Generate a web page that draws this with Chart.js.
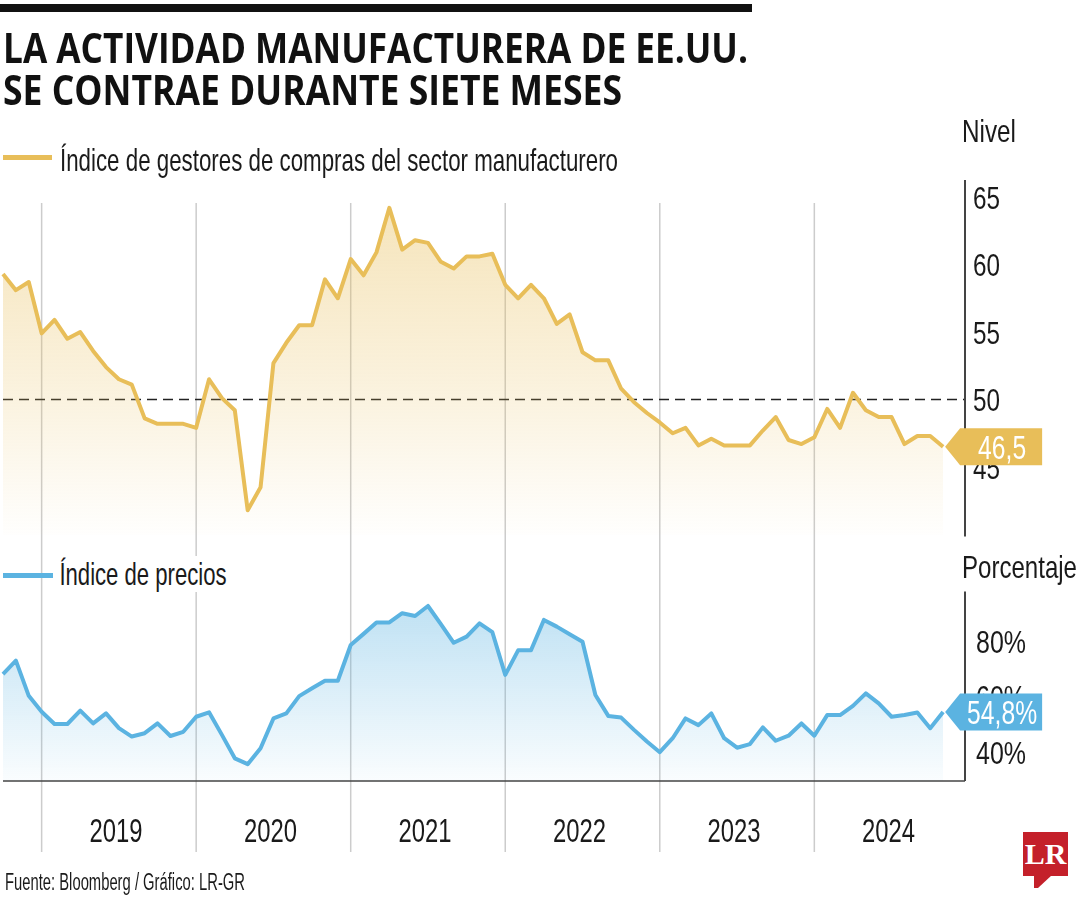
<!DOCTYPE html>
<html>
<head>
<meta charset="utf-8">
<script src="https://cdn.jsdelivr.net/npm/chart.js@4.4.1/dist/chart.umd.min.js"></script>
<style>
  body { margin: 0; background: #fff; }
  #page { position: relative; width: 1080px; height: 900px; overflow: hidden; background: #fff; }
  #chart { position: absolute; left: 0; top: 0; }
  .txt { position: absolute; white-space: nowrap; line-height: 1; transform-origin: 0 0; color: #1a1a1a;
         font-family: "Liberation Sans Narrow", "Liberation Sans", sans-serif; }
  .title { font-family: "Open Sans", "Noto Sans", sans-serif; font-weight: 700; font-size: 42px; color: #111; }
  .bar { position: absolute; background: #111; }
  .key { position: absolute; height: 5px; }
  #logo { position: absolute; left: 1023px; top: 832px; width: 45px; height: 44px; background: #c4202a;
          color: #fff; font: bold 30px "Liberation Serif", "DejaVu Serif", serif; text-align: center; line-height: 44px; }
  #logo:after { content: ""; position: absolute; left: 11px; top: 43px; border-left: 4px solid #c4202a;
                border-right: 14px solid transparent; border-top: 13px solid #c4202a; }
</style>
</head>
<body>
<div id="page">
  <canvas id="chart" width="1080" height="900"></canvas>

  <div class="bar" style="left:0;top:4px;width:752px;height:8px"></div>
  <div class="txt title" style="left:3px;top:26px" data-w="745">LA ACTIVIDAD MANUFACTURERA DE EE.UU.</div>
  <div class="txt title" style="left:3px;top:68px" data-w="619">SE CONTRAE DURANTE SIETE MESES</div>

  <div class="key" style="left:3px;top:155px;width:49px;background:#e8be59"></div>
  <div class="txt" style="left:60px;top:144px;font-size:32px" data-w="558">Índice de gestores de compras del sector manufacturero</div>
  <div class="txt" style="left:962px;top:115px;font-size:32px" data-w="54">Nivel</div>

  <div class="key" style="left:3px;top:573px;width:50px;background:#5bb3e1"></div>
  <div class="txt" style="left:58px;top:556px;font-size:32px;background:#fff;padding:2px" data-w="170">Índice de precios</div>
  <div class="txt" style="left:962px;top:551px;font-size:32px" data-w="115">Porcentaje</div>

  <div class="txt" style="left:5px;top:871px;font-size:23px" data-w="240">Fuente: Bloomberg / Gráfico: LR-GR</div>
  <div id="logo">LR</div>
</div>

<script>
// months from sep 2018 to oct 2024
const months = [
  'sep 2018', 'oct 2018', 'nov 2018', 'dic 2018',
  'ene 2019', 'feb 2019', 'mar 2019', 'abr 2019', 'may 2019', 'jun 2019', 'jul 2019', 'ago 2019', 'sep 2019', 'oct 2019', 'nov 2019', 'dic 2019',
  'ene 2020', 'feb 2020', 'mar 2020', 'abr 2020', 'may 2020', 'jun 2020', 'jul 2020', 'ago 2020', 'sep 2020', 'oct 2020', 'nov 2020', 'dic 2020',
  'ene 2021', 'feb 2021', 'mar 2021', 'abr 2021', 'may 2021', 'jun 2021', 'jul 2021', 'ago 2021', 'sep 2021', 'oct 2021', 'nov 2021', 'dic 2021',
  'ene 2022', 'feb 2022', 'mar 2022', 'abr 2022', 'may 2022', 'jun 2022', 'jul 2022', 'ago 2022', 'sep 2022', 'oct 2022', 'nov 2022', 'dic 2022',
  'ene 2023', 'feb 2023', 'mar 2023', 'abr 2023', 'may 2023', 'jun 2023', 'jul 2023', 'ago 2023', 'sep 2023', 'oct 2023', 'nov 2023', 'dic 2023',
  'ene 2024', 'feb 2024', 'mar 2024', 'abr 2024', 'may 2024', 'jun 2024', 'jul 2024', 'ago 2024', 'sep 2024', 'oct 2024'
];

// PMI manufacturero (nivel)
const pmi = [
  59.3, 58.1, 58.7, 54.9,
  55.9, 54.5, 55.0, 53.6, 52.4, 51.5, 51.1, 48.6, 48.2, 48.2, 48.2, 47.9,
  51.5, 50.1, 49.2, 41.8, 43.5, 52.7, 54.2, 55.5, 55.5, 58.9, 57.5, 60.4,
  59.2, 60.9, 64.2, 61.1, 61.8, 61.6, 60.2, 59.7, 60.6, 60.6, 60.8, 58.5,
  57.5, 58.5, 57.5, 55.6, 56.3, 53.5, 52.9, 52.9, 50.8, 49.8, 49.0, 48.3,
  47.5, 47.9, 46.6, 47.1, 46.6, 46.6, 46.6, 47.7, 48.7, 47.0, 46.7, 47.2,
  49.3, 47.9, 50.5, 49.2, 48.7, 48.7, 46.7, 47.3, 47.3, 46.5
];

// indice de precios (%)
const prices = [
  68.4, 73.2, 60.6, 54.9,
  50.5, 50.5, 55.3, 50.7, 54.3, 49.0, 46.0, 47.2, 50.7, 46.2, 47.7, 53.1,
  54.7, 46.6, 38.2, 36.1, 41.8, 52.5, 54.3, 60.5, 63.3, 66.0, 66.0, 78.8,
  82.8, 86.9, 86.9, 90.2, 89.2, 92.8, 86.3, 79.6, 81.8, 86.6, 83.4, 68.1,
  76.9, 76.9, 87.8, 85.4, 82.7, 80.0, 60.9, 53.4, 52.8, 48.4, 44.2, 40.4,
  45.4, 52.5, 50.1, 54.3, 45.4, 42.0, 43.3, 49.3, 44.5, 46.3, 50.7, 46.3,
  53.7, 53.7, 57.0, 61.5, 57.9, 53.1, 53.7, 54.6, 49.0, 54.8
];

const years = ['2019', '2020', '2021', '2022', '2023', '2024'];
const pmiTicks = [45, 50, 55, 60, 65];
const priceTicks = [40, 60, 80];
const pmiLast = '46,5';
const priceLast = '54,8%';

const gold = '#e8be59';
const blue = '#5bb3e1';
const FONT = '"Liberation Sans Narrow", "Liberation Sans", Arial, sans-serif';

// year label sits at june, year separator at december
const yearIdx = years.map(y => months.indexOf('jun ' + y));
const sepIdx = years.map(y => months.indexOf('dic ' + (y - 1)));

function fitText() {
  document.querySelectorAll('[data-w]').forEach(el => {
    el.style.transform = 'none';
    const w = el.getBoundingClientRect().width;
    el.style.transform = 'scaleX(' + (+el.dataset.w / w) + ')';
  });
}
fitText();
document.fonts.ready.then(fitText);

// draw text squeezed to a given width (condensed look)
function fitFill(ctx, text, x, y, width, align) {
  const w = ctx.measureText(text).width;
  ctx.save();
  ctx.translate(x, y);
  ctx.scale(width / w, 1);
  ctx.textAlign = align || 'left';
  ctx.fillText(text, 0, 0);
  ctx.restore();
}

function drawTag(ctx, xTip, yc, color, text, textW) {
  const h = 18.5;
  ctx.save();
  ctx.fillStyle = color;
  ctx.beginPath();
  ctx.moveTo(xTip, yc);
  ctx.lineTo(xTip + 15, yc - h);
  ctx.lineTo(xTip + 97, yc - h);
  ctx.lineTo(xTip + 97, yc + h);
  ctx.lineTo(xTip + 15, yc + h);
  ctx.closePath();
  ctx.fill();
  ctx.fillStyle = '#fff';
  ctx.font = '33px ' + FONT;
  fitFill(ctx, text, xTip + 57, yc + 12, textW, 'center');
  ctx.restore();
}

const decor = {
  id: 'decor',
  beforeDatasetsDraw(chart) {
    const { ctx, chartArea: a, scales: { x, y } } = chart;
    ctx.save();
    // year separators
    ctx.strokeStyle = '#cccccc';
    ctx.lineWidth = 1.5;
    sepIdx.forEach(i => {
      const px = x.getPixelForValue(i);
      ctx.beginPath();
      ctx.moveTo(px, a.top + 23);
      ctx.lineTo(px, a.bottom + 71);
      ctx.stroke();
    });
    // 50 = expansion / contraction
    const y50 = y.getPixelForValue(50);
    ctx.strokeStyle = '#222';
    ctx.lineWidth = 1.3;
    ctx.setLineDash([10, 6]);
    ctx.beginPath();
    ctx.moveTo(a.left, y50);
    ctx.lineTo(a.right, y50);
    ctx.stroke();
    ctx.restore();
  },
  afterDatasetsDraw(chart) {
    const { ctx, chartArea: a, scales: { x, y, y2 } } = chart;
    ctx.save();
    // axis lines
    ctx.strokeStyle = '#444';
    ctx.lineWidth = 2;
    ctx.beginPath();
    ctx.moveTo(a.right, a.top);
    ctx.lineTo(a.right, y.getPixelForValue(40) + 2);
    ctx.moveTo(a.right, y2.getPixelForValue(98));
    ctx.lineTo(a.right, a.bottom);
    ctx.stroke();
    ctx.lineWidth = 1.5;
    ctx.beginPath();
    ctx.moveTo(a.left, a.bottom);
    ctx.lineTo(a.right, a.bottom);
    ctx.stroke();

    // tick labels
    ctx.fillStyle = '#1a1a1a';
    ctx.font = '32px ' + FONT;
    pmiTicks.forEach(v => fitFill(ctx, String(v), a.right + 8, y.getPixelForValue(v) + 11.5, 27));
    ctx.font = '31px ' + FONT;
    priceTicks.forEach(v => fitFill(ctx, v + '%', a.right + 11, y2.getPixelForValue(v) + 11, 50));

    // year labels
    ctx.font = '34px ' + FONT;
    years.forEach((t, k) => fitFill(ctx, t, x.getPixelForValue(yearIdx[k]) - 3, a.bottom + 61, 53, 'center'));
    ctx.restore();

    // last value tags
    const last = months.length - 1;
    drawTag(ctx, x.getPixelForValue(last) + 2, y.getPixelForValue(pmi[last]), gold, pmiLast, 48);
    drawTag(ctx, x.getPixelForValue(last) + 2, y2.getPixelForValue(prices[last]), blue, priceLast, 70);
  }
};

function pmiFill(c) {
  const ch = c.chart;
  if (!ch.chartArea) return 'transparent';
  const s = ch.scales.y;
  const g = ch.ctx.createLinearGradient(0, s.getPixelForValue(65), 0, s.getPixelForValue(40));
  g.addColorStop(0, 'rgba(232,190,89,0.42)');
  g.addColorStop(0.6, 'rgba(232,190,89,0.19)');
  g.addColorStop(1, 'rgba(232,190,89,0.01)');
  return g;
}

function priceFill(c) {
  const ch = c.chart;
  if (!ch.chartArea) return 'transparent';
  const s = ch.scales.y2;
  const g = ch.ctx.createLinearGradient(0, s.getPixelForValue(95), 0, ch.chartArea.bottom);
  g.addColorStop(0, 'rgba(91,179,225,0.40)');
  g.addColorStop(1, 'rgba(91,179,225,0.03)');
  return g;
}

const ctx = document.getElementById('chart').getContext('2d');

new Chart(ctx, {
  type: 'line',
  data: {
    datasets: [
      {
        label: 'Índice de gestores de compras del sector manufacturero',
        data: pmi.map((v, i) => ({ x: i, y: v })),
        yAxisID: 'y',
        borderColor: gold,
        backgroundColor: pmiFill,
        fill: { value: 40 },
        borderWidth: 4,
        borderJoinStyle: 'round',
        pointRadius: 0,
        tension: 0,
        clip: 6
      },
      {
        label: 'Índice de precios',
        data: prices.map((v, i) => ({ x: i, y: v })),
        yAxisID: 'y2',
        borderColor: blue,
        backgroundColor: priceFill,
        fill: 'start',
        borderWidth: 4,
        borderJoinStyle: 'round',
        pointRadius: 0,
        tension: 0,
        clip: 6
      }
    ]
  },
  options: {
    responsive: false,
    animation: false,
    events: [],
    layout: { padding: { left: 3, right: 115, top: 180, bottom: 119 } },
    plugins: { legend: { display: false }, tooltip: { enabled: false } },
    scales: {
      x: { type: 'linear', display: false, min: 0, max: 74.7 },
      // nivel: 50 sits on the dashed line, band 40-66 on top
      y: { type: 'linear', display: false, min: 21.74, max: 66.26 },
      // porcentaje: lower band
      y2: { type: 'linear', display: false, min: 30.07, max: 245.48 }
    }
  },
  plugins: [decor]
});
</script>
</body>
</html>
